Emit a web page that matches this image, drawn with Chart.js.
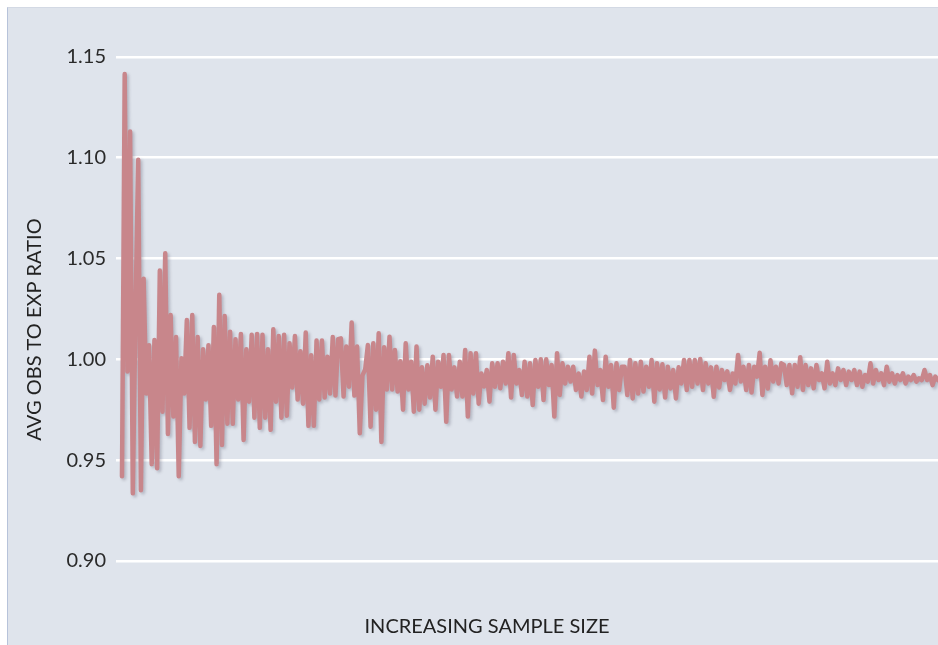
<!DOCTYPE html>
<html>
<head>
<meta charset="utf-8">
<script src="https://cdn.jsdelivr.net/npm/chart.js@4.4.1/dist/chart.umd.min.js"></script>
<style>
  html, body { margin: 0; padding: 0; background: #ffffff; }
  #wrap { position: relative; width: 938px; height: 645px; overflow: hidden; }
  #panel {
    position: absolute; left: 7px; top: 7px; right: 0; bottom: 0;
    background: #dfe4ec;
    border-left: 1px solid #b7c3da;
    border-top: 1px solid #d3d9e4;
  }
  #chart { position: absolute; left: 0; top: 0; }
</style>
</head>
<body>
<div id="wrap">
  <div id="panel"></div>
  <canvas id="chart" width="938" height="645"></canvas>
</div>
<script>
const ratiosEarly = [
  0.942, 1.1415, 0.994, 1.113, 0.9335, 1.0245, 1.099, 0.935, 1.040, 0.983,
  1.007, 0.948, 1.0096, 0.946, 1.044, 0.974, 1.0526, 0.963, 1.022, 0.9716,
  1.011, 0.942, 1.0005, 0.983, 1.0195, 0.966, 1.022, 0.959, 1.011, 0.957,
  1.005, 0.980, 1.007, 0.967, 1.016
];
const ratiosB = [
  0.948, 1.032, 0.9575, 1.0215, 0.968, 1.0137, 0.968, 1.010, 0.980, 1.0126,
  0.960, 1.005, 0.979, 1.0122, 0.971, 1.0126, 0.966, 1.0122, 0.971, 1.005,
  0.965, 1.0149, 0.979, 1.0115, 0.971, 1.0122, 0.972, 1.008, 0.986, 1.0115,
  0.980, 1.004, 0.978, 1.0133, 0.967, 1.002, 0.967, 1.0093, 0.980, 1.0093,
  0.981, 1.0013, 0.983, 1.011, 0.982, 1.010
];
const ratiosC = [
  1.0104, 0.9815, 1.0063, 0.9864, 1.0182, 0.982, 1.0063, 0.9633, 0.992, 0.995,
  1.0071, 0.9666, 1.0079, 0.975, 1.0129, 0.959, 1.006, 0.985, 1.0112, 0.985,
  1.0046, 0.984, 0.999, 0.975, 1.0079, 0.985, 0.9988, 0.974, 1.0063, 0.975,
  0.996, 0.978, 0.997, 0.981, 1.0013, 0.975, 0.9988, 0.9864, 1.0021, 0.969,
  1.0021, 0.985, 0.996, 0.9815, 0.9988, 0.9815, 1.0046, 0.9716, 1.003, 0.983,
  1.003, 0.978
];
const ratiosD = [
  0.9930, 0.9865, 0.9947, 0.9790, 0.998, 0.9864, 0.998, 0.9856, 0.9988, 0.988,
  1.003, 0.9810, 1.0021, 0.9880, 0.9947, 0.9823, 0.9988, 0.9815, 0.998, 0.9773,
  0.9997, 0.9864, 1.0000, 0.9798, 1.0000, 0.9872, 0.9972, 0.9716, 1.003, 0.9823,
  0.998, 0.988, 0.9963, 0.9890, 0.9963, 0.9848, 0.9930, 0.9815, 0.9940, 0.9848,
  1.0013, 0.9830, 1.0043, 0.9872, 0.9947, 0.9798, 1.0013, 0.9864, 0.9972, 0.9760,
  0.998, 0.9848, 0.9963
];
const ratiosE = [
  0.9963, 0.9823, 0.9997, 0.9806, 0.998, 0.9830, 0.9988, 0.9840, 0.9963, 0.9864,
  0.9997, 0.9790, 0.998, 0.9850, 0.9975, 0.9810, 0.9963, 0.9855, 0.9947, 0.9806,
  0.9960, 0.9880, 0.9997, 0.9848, 0.9997, 0.9864, 0.9997, 0.9880, 1.0002, 0.9848,
  0.998, 0.9880, 0.9960, 0.9814, 0.9963, 0.9860, 0.9947, 0.9897, 0.9940, 0.9848,
  0.9930, 0.9880, 1.0021, 0.9890, 0.9963, 0.9848, 0.9972, 0.9835, 0.9963, 0.9914,
  1.0033, 0.9823, 0.9963, 0.9855, 0.9995, 0.9890, 0.9963, 0.9880, 0.998
];
const ratiosLate = [
  0.9972, 0.9872, 0.9972, 0.9832, 0.9972, 0.9864, 1.001, 0.9848, 0.9972, 0.9872,
  0.9955, 0.9856, 0.9972, 0.9897, 0.993, 0.9856, 0.9988, 0.988, 0.993, 0.9872,
  0.9955, 0.9897, 0.9947, 0.9872, 0.9939, 0.9897, 0.9947, 0.9872, 0.9939, 0.9864,
  0.9922, 0.9889, 0.998, 0.988, 0.9947, 0.9897, 0.993, 0.9872, 0.9963, 0.9889,
  0.993, 0.988, 0.9922, 0.9897, 0.993, 0.988, 0.9914, 0.9897, 0.9922, 0.9889,
  0.9906, 0.9897, 0.9947, 0.9897, 0.9922, 0.9872, 0.9914, 0.9897
];

const yTickValues = [0.90, 0.95, 1.00, 1.05, 1.10, 1.15];
const yTitle = 'AVG OBS TO EXP RATIO';
const xTitle = 'INCREASING SAMPLE SIZE';

const ratios = [].concat(ratiosEarly, ratiosB, ratiosC, ratiosD, ratiosE, ratiosLate);
const sampleIdx = ratios.map((_, i) => i);

const FONT = 'Lato, "Open Sans", sans-serif';

// soft drop shadow under the line
const shadowPlugin = {
    id: 'lineShadow',
    beforeDatasetsDraw(chart) {
        const ctx = chart.ctx;
        ctx.save();
        ctx.shadowColor = 'rgba(70, 70, 90, 0.28)';
        ctx.shadowBlur = 3;
        ctx.shadowOffsetX = 2;
        ctx.shadowOffsetY = 2;
    },
    afterDatasetsDraw(chart) {
        chart.ctx.restore();
    }
};

// x title sits centred on the whole panel, not on the plot area
const xTitlePlugin = {
    id: 'xTitle',
    afterDraw(chart) {
        const ctx = chart.ctx;
        ctx.save();
        ctx.font = '20px ' + FONT;
        ctx.fillStyle = '#222';
        ctx.textAlign = 'center';
        ctx.textBaseline = 'middle';
        ctx.fillText(xTitle, 487, 627);
        ctx.restore();
    }
};

new Chart(document.getElementById('chart'), {
    type: 'line',
    data: {
        labels: sampleIdx,
        datasets: [{
            data: ratios.map((v, i) => ({x: sampleIdx[i], y: v})),
            borderColor: '#c8868b',
            borderWidth: 4.5,
            borderJoinStyle: 'round',
            borderCapStyle: 'round',
            pointRadius: 0,
            tension: 0,
            fill: false
        }]
    },
    options: {
        responsive: false,
        animation: false,
        layout: {padding: {left: 8, right: 0, top: 54, bottom: 40}},
        plugins: {legend: {display: false}, tooltip: {enabled: false}},
        scales: {
            x: {
                type: 'linear',
                min: -2.22,
                max: sampleIdx.length - 1,
                display: false
            },
            y: {
                min: 0.87812,
                max: 1.15144,
                afterBuildTicks: (axis) => {
                    axis.ticks = yTickValues.map(v => ({value: v}));
                },
                afterFit: (scale) => { scale.width = 108; },
                grid: {color: '#ffffff', lineWidth: 2.5, drawTicks: false},
                border: {display: false},
                ticks: {
                    color: '#2a2a2a',
                    padding: 10,
                    font: {family: FONT, size: 20},
                    callback: (v) => Number(v).toFixed(2)
                },
                title: {
                    display: true,
                    text: yTitle,
                    color: '#222',
                    font: {family: FONT, size: 20},
                    padding: {top: 15, bottom: 0}
                }
            }
        }
    },
    plugins: [shadowPlugin, xTitlePlugin]
});
</script>
</body>
</html>
